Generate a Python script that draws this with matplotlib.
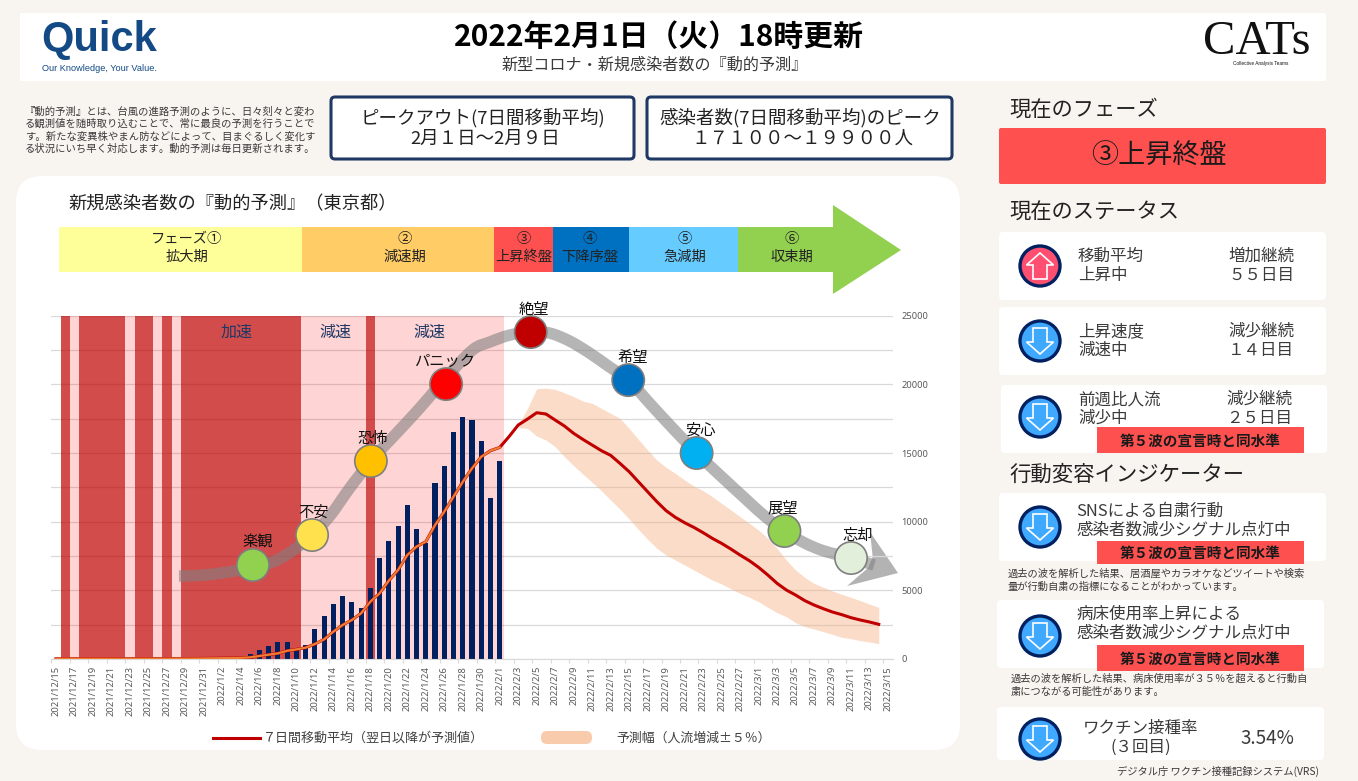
import matplotlib
matplotlib.use("Agg")
import numpy as np
import pandas as pd
import matplotlib.pyplot as plt
from matplotlib.patches import FancyBboxPatch, Rectangle, Polygon, Circle, PathPatch
from matplotlib.path import Path

plt.rcParams['font.family'] = ['Noto Sans CJK JP', 'DejaVu Sans']

W, H = 1358, 781

dates = pd.date_range("2021-12-15", "2022-03-15")
date_labels = [f"{d.year}/{d.month}/{d.day}" for d in dates]

# 1 = dark red column, 0 = pink column, days 1..48
stress_days = [1, 0, 1, 1, 1, 1, 1, 0, 1, 1, 0, 1, 0, 1, 1, 1, 1, 1, 1, 1, 1, 1, 1, 1, 1, 1,
               0, 0, 0, 0, 0, 0, 0, 1, 0, 0, 0, 0, 0, 0, 0, 0, 0, 0, 0, 0, 0, 0]

new_cases = [21, 20, 22, 20, 23, 15, 10, 14, 37, 33, 37, 28, 30, 22, 44, 76, 78,
             79, 84, 103, 151, 390, 640, 920, 1240, 1240, 700, 1020, 2210, 3130, 4030,
             4560, 4175, 3690, 5145, 7350, 8590, 9700, 11210, 9440, 8420, 12815, 14080,
             16550, 17600, 17400, 15900, 11700, 14392]

moving_avg = [20, 20, 20, 21, 21, 20, 19, 18, 20, 22, 24, 25, 26, 26, 29, 36, 42,
              50, 60, 70, 85, 120, 220, 315, 410, 600, 700, 825, 1090, 1430, 1990,
              2475, 2840, 3325, 4170, 4780, 5700, 6480, 7570, 8180, 8540, 9750, 10730,
              11820, 12900, 13880, 14730, 15170, 15410]

forecast = [16190, 17040, 17470, 17935, 17840, 17400, 16965, 16430, 15990, 15580, 15170,
            14830, 14250, 13640, 12910, 12180, 11455, 10800, 10315, 9925, 9585, 9200,
            8785, 8420, 8010, 7570, 7160, 6675, 6115, 5510, 5025, 4660, 4250, 3930,
            3665, 3420, 3230, 3010, 2840, 2695, 2525]

band_upper = [17040, 18250, 19680, 19730, 19630, 19390, 19100, 18785, 18615, 18250, 17890,
              17520, 16795, 15995, 15215, 14490, 13955, 13520, 13035, 12595, 12255, 11820,
              11335, 10850, 10365, 9880, 9390, 8785, 8060, 7210, 6480, 5945, 5510, 5220,
              4950, 4710, 4490, 4250, 4005, 3760]
band_lower = [16845, 16795, 16235, 15945, 15460, 14730, 14075, 13470, 12865, 12255, 11575,
              10920, 10195, 9440, 8715, 8060, 7570, 7210, 6845, 6480, 6115, 5750, 5460,
              5120, 4780, 4490, 4175, 3760, 3375, 3080, 2645, 2355, 2185, 1990, 1795,
              1575, 1480, 1335, 1240, 1115]

# emotion cycle, day index and height in the units of the chart
cycle_day = [13.3, 16.1, 19.35, 21.3, 23.68, 25.84, 27.68, 29.62, 31.78, 34.05, 36.65, 39.35,
             42.16, 45.05, 46.92, 49.08, 51.35, 53.4, 55.57, 57.73, 59.9, 61.95, 64.2, 66.9,
             69.3, 71.8, 74.5, 76.65, 78.8, 81, 83.1, 86, 88.5]
cycle_val = [6042, 6115, 6406, 6698, 7134, 8008, 9027, 10410, 12449, 14414, 16307, 18273,
             20450, 22500, 23078, 23587, 23806, 23733, 23150, 22277, 21258, 20311, 18637,
             16671, 15000, 13395, 11721, 10410, 9318, 8445, 7862, 7353, 6843]

emotion_names = ["楽観", "不安", "恐怖", "パニック", "絶望", "希望", "安心", "展望", "忘却"]
emotion_day = [21.3, 27.7, 34.06, 42.2, 51.35, 61.9, 69.3, 78.8, 86.0]
emotion_val = [6843, 9027, 14415, 20020, 23806, 20310, 15000, 9320, 7353]
emotion_colors = ["#92D050", "#FFE04D", "#FFC000", "#FF0000", "#C00000",
                  "#0070C0", "#00B0F0", "#92D050", "#E2EFDA"]

phase_names = ["フェーズ①\n拡大期", "②\n減速期", "③\n上昇終盤", "④\n下降序盤", "⑤\n急減期", "⑥\n収束期"]

NAVY = "#1F3864"
RED = "#FF5050"
BG = "#F8F4F0"
INK = "#3A3A3A"


def box(ax, x0, y0, x1, y1, fc="white", ec="none", lw=0, r=4, z=1):
    ax.add_patch(FancyBboxPatch((x0, y0), x1 - x0, y1 - y0, boxstyle=f"round,pad=0,rounding_size={r}",
                                fc=fc, ec=ec, lw=lw, zorder=z))


def txt(ax, x, y, s, size=11.9, color=INK, ha="center", va="center", **kw):
    ax.text(x, y + 1.5, s, fontsize=size, color=color, ha=ha, va=va, zorder=5, **kw)


def badge(ax, x0, y0, x1, y1):
    ax.add_patch(Rectangle((x0, y0), x1 - x0, y1 - y0, fc=RED, ec="none", zorder=4))
    txt(ax, (x0 + x1) / 2, (y0 + y1) / 2 - 1, "第５波の宣言時と同水準", size=10.5, color="#1a1a1a", fontweight="bold")


def icon(ax, cx, cy, up=False):
    fc = "#FF4F70" if up else "#3FA9FF"
    ax.add_patch(Circle((cx, cy), 20, fc=fc, ec="#002060", lw=2.4, zorder=3))
    s = -1 if up else 1
    shape = [(-7, -13), (7, -13), (7, 1), (13.5, 1), (0, 13), (-13.5, 1), (-7, 1)]
    pts = [(cx + a, cy + s * b) for a, b in shape]
    ax.add_patch(Polygon(pts, closed=True, fc=fc, ec="white", lw=1.2, zorder=4))


def smooth_path(xs, ys):
    # catmull-rom through the points, as bezier segments
    p = np.column_stack([xs, ys])
    verts = [p[0]]
    codes = [Path.MOVETO]
    for i in range(len(p) - 1):
        a = p[max(i - 1, 0)]
        d = p[min(i + 2, len(p) - 1)]
        verts += [p[i] + (p[i + 1] - a) / 6, p[i + 1] - (d - p[i]) / 6, p[i + 1]]
        codes += [Path.CURVE4] * 3
    return Path(verts, codes)


fig = plt.figure(figsize=(W / 100, H / 100), dpi=100, facecolor=BG)
bg = fig.add_axes([0, 0, 1, 1], zorder=0)
bg.set_xlim(0, W)
bg.set_ylim(H, 0)
bg.axis("off")

# header
box(bg, 20, 13, 1326, 81, r=2)
txt(bg, 99, 39, "Quick", size=30, color="#134A85", fontweight="bold", family=["Liberation Sans"])
txt(bg, 99, 67, "Our Knowledge, Your Value.", size=6.6, color="#134A85", family=["Liberation Sans"])
txt(bg, 659, 35.5, "2022年2月1日（火）18時更新", size=21.5, color="black", fontweight="bold")
txt(bg, 655, 64, "新型コロナ・新規感染者数の『動的予測』", size=11.6)
txt(bg, 1257, 40, "CATs", size=35, color="#111111", family=["Liberation Serif"])
txt(bg, 1261, 62, "Collective Analysis Teams", size=3.4, color="#111111", family=["Liberation Sans"])

# intro text
intro = ["『動的予測』とは、台風の進路予測のように、日々刻々と変わ",
         "る観測値を随時取り込むことで、常に最良の予測を行うことで",
         "す。新たな変異株やまん防などによって、目まぐるしく変化す",
         "る状況にいち早く対応します。動的予測は毎日更新されます。"]
for i, line in enumerate(intro):
    txt(bg, 25, 110 + i * 12.4, line, size=7.45, ha="left")

# peak boxes
box(bg, 331, 97, 634, 159, ec=NAVY, lw=2.2, r=4)
box(bg, 647, 97, 952, 159, ec=NAVY, lw=2.2, r=4)
txt(bg, 483, 116, "ピークアウト(7日間移動平均)", size=13.3, color="#222222")
txt(bg, 485, 137, "2月１日～2月９日", size=13.3, color="#222222")
txt(bg, 800, 116, "感染者数(7日間移動平均)のピーク", size=13.3, color="#222222")
txt(bg, 802, 137, "１７１００～１９９００人", size=13.3, color="#222222")

# chart panel
box(bg, 16, 176, 960, 750, r=26)
txt(bg, 68, 202.5, "新規感染者数の『動的予測』（東京都）", size=13.15, ha="left", color="#222222")

# phase arrow
phase_edges = [59, 302, 494, 553, 629, 738, 833]
phase_centers = [187, 405, 524, 590, 685, 792]
phase_colors = ["#FFFF99", "#FFCC66", RED, "#0070C0", "#66CCFF", "#92D050"]
for i, (name, col) in enumerate(zip(phase_names, phase_colors)):
    x0, x1 = phase_edges[i], phase_edges[i + 1]
    bg.add_patch(Rectangle((x0, 227), x1 - x0, 45, fc=col, ec="none", zorder=2))
    txt(bg, phase_centers[i], 246.5, name, size=10.3, color="#222222", linespacing=1.3)
bg.add_patch(Polygon([(833, 205), (901, 250), (833, 294)], closed=True, fc="#92D050", ec="none", zorder=2))

# legend
bg.plot([213, 260], [738, 738], color="#C00000", lw=2.2, zorder=3)
txt(bg, 263, 736.5, "７日間移動平均（翌日以降が予測値）", size=9.4, ha="left", color="#404040")
box(bg, 541, 731, 592, 744, fc="#F8CBAD", r=6, z=3)
txt(bg, 616, 736.5, "予測幅（人流増減±５％）", size=9.3, ha="left", color="#404040")

# right column
txt(bg, 1009, 108, "現在のフェーズ", size=15.3, ha="left", color="#222222")
box(bg, 999, 128, 1326, 184, fc=RED, r=2)
txt(bg, 1159, 154, "③上昇終盤", size=19.5, color="#1a1a1a")
txt(bg, 1009, 211, "現在のステータス", size=15.3, ha="left", color="#222222")

box(bg, 999, 232, 1326, 300)
icon(bg, 1040, 266, up=True)
txt(bg, 1078, 255, "移動平均", ha="left")
txt(bg, 1078, 274, "上昇中", ha="left")
txt(bg, 1261, 255, "増加継続")
txt(bg, 1261, 274, "５５日目")

box(bg, 999, 307, 1326, 375)
icon(bg, 1040, 341)
txt(bg, 1078, 330, "上昇速度", ha="left")
txt(bg, 1078, 349, "減速中", ha="left")
txt(bg, 1261, 330, "減少継続")
txt(bg, 1261, 349, "１４日目")

box(bg, 1001, 385, 1327, 453)
icon(bg, 1040, 417)
txt(bg, 1078, 398, "前週比人流", ha="left")
txt(bg, 1078, 417, "減少中", ha="left")
txt(bg, 1259, 398, "減少継続")
txt(bg, 1259, 417, "２５日目")
badge(bg, 1097, 427, 1304, 453)

txt(bg, 1009, 473, "行動変容インジケーター", size=15.4, ha="left", color="#222222")

box(bg, 999, 493, 1326, 561)
icon(bg, 1040, 527)
txt(bg, 1076, 510, "SNSによる自粛行動", ha="left")
txt(bg, 1076, 529, "感染者数減少シグナル点灯中", ha="left")
badge(bg, 1097, 541, 1304, 564)
txt(bg, 1008, 572, "過去の波を解析した結果、居酒屋やカラオケなどツイートや検索", size=7.4, ha="left")
txt(bg, 1008, 585, "量が行動自粛の指標になることがわかっています。", size=7.4, ha="left")

box(bg, 997, 600, 1324, 668)
icon(bg, 1040, 636)
txt(bg, 1076, 613, "病床使用率上昇による", ha="left")
txt(bg, 1076, 632, "感染者数減少シグナル点灯中", ha="left")
badge(bg, 1097, 645, 1304, 671)
txt(bg, 1011, 677, "過去の波を解析した結果、病床使用率が３５％を超えると行動自", size=7.4, ha="left")
txt(bg, 1011, 690, "粛につながる可能性があります。", size=7.4, ha="left")

box(bg, 997, 707, 1324, 760)
icon(bg, 1040, 739)
txt(bg, 1141, 727, "ワクチン接種率", ha="center")
txt(bg, 1141, 746, "(３回目)", ha="center")
txt(bg, 1267, 737, "3.54%", size=13.5)
txt(bg, 1319, 770, "デジタル庁 ワクチン接種記録システム(VRS)", size=7.4, ha="right")

# arrow head of the cycle, under the chart layer
bg.add_patch(Polygon([(870, 532), (898, 573), (847, 586), (868, 568), (872.7, 557)], closed=True,
                     fc="#B3B3B3", ec="none", zorder=3))

# chart
ax = fig.add_axes([51.4 / W, (H - 659) / H, 841.2 / W, 343.3 / H], zorder=1)
ax.patch.set_alpha(0)
ax.set_xlim(-0.5, 90.5)
ax.set_ylim(0, 25000)
days = np.arange(len(dates))

ax.set_yticks(np.arange(0, 25001, 2500))
ax.set_yticklabels([str(v) if v % 5000 == 0 else "" for v in range(0, 25001, 2500)],
                   fontsize=6.7, color="#595959", family=["Noto Sans"])
ax.yaxis.tick_right()
ax.tick_params(axis="y", length=0, pad=6.5)
ax.grid(axis="y", color="#D9D9D9", lw=0.9)
ax.set_axisbelow(True)

flags = np.array(stress_days)
ax.bar(days[1:49][flags == 0], 25000, width=1.0, color="#FF0000", alpha=0.17, lw=0, zorder=1)
ax.bar(days[1:49][flags == 1], 25000, width=1.0, color="#C00000", alpha=0.7, lw=0, zorder=1)
ax.bar(days[:49], new_cases, width=0.55, color="#002060", zorder=2)

ax.fill_between(days[50:90], band_lower, band_upper, color="#F4B183", alpha=0.44, lw=0, zorder=2)
ax.plot(days[:90], moving_avg + forecast, color="#C00000", lw=2.2, zorder=3)
ax.plot(days[:49], moving_avg, color="#ED7D31", lw=1.6, zorder=4)

ax.add_patch(PathPatch(smooth_path(cycle_day, cycle_val), fc="none", ec="#808080", alpha=0.58, lw=8.3,
                       capstyle="butt", joinstyle="round", zorder=5, clip_on=False))

ax.scatter(emotion_day, emotion_val, s=540, c=emotion_colors, edgecolors="#7F7F7F", linewidths=1.2,
           zorder=6, clip_on=False)
label_shift = [0.5, 0.2, 0.2, -0.2, 0.3, 0.5, 0.4, -0.2, 0.7]
for name, d, v, dx in zip(emotion_names, emotion_day, emotion_val, label_shift):
    ax.annotate(name, (d + dx, v), xytext=(0, 16.5), textcoords="offset points", ha="center", va="center",
                fontsize=11, color="#111111", zorder=7, annotation_clip=False)

for label, d in zip(["加速", "減速", "減速"], [19.5, 30.2, 40.4]):
    ax.text(d, 23800, label, fontsize=11.5, color=NAVY, ha="center", va="center", zorder=7)

ax.set_xticks(days[::2])
ax.set_xticklabels(date_labels[::2], rotation=90, fontsize=6.8, color="#595959", family=["Noto Sans"])
ax.set_xticks(days[::2] - 0.5, minor=True)
ax.tick_params(axis="x", which="major", length=0, pad=5)
ax.tick_params(axis="x", which="minor", length=3, color="#D9D9D9", width=0.8)
for side in ["top", "left", "right"]:
    ax.spines[side].set_visible(False)
ax.spines["bottom"].set_color("#D9D9D9")

fig.savefig("out.png", dpi=100, facecolor=BG)
